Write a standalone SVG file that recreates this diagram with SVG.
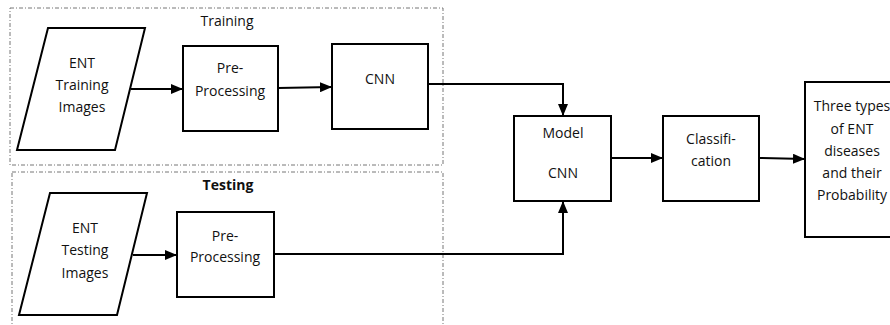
<svg xmlns="http://www.w3.org/2000/svg" width="890" height="325" viewBox="0 0 890 325">
<style>
.box{fill:#fff;stroke:#000;stroke-width:2}
.grp{fill:none;stroke:#777;stroke-width:1;stroke-dasharray:4 2 1 2}
.t{font-family:"Open Sans","Liberation Sans",sans-serif;font-size:14px;fill:#111;text-anchor:middle}
.b{font-weight:bold}
.c{fill:none;stroke:#000;stroke-width:2}
</style>
<defs>
<marker id="ah" markerWidth="12" markerHeight="10" refX="12" refY="5" orient="auto" markerUnits="userSpaceOnUse">
<path d="M0,0 L12,5 L0,10 Z" fill="#000"/>
</marker>
</defs>
<rect width="890" height="325" fill="#fff"/>
<g id="training-group">
<rect class="grp" x="10" y="8" width="433" height="157"/>
<text class="t" x="227" y="26">Training</text>
</g>
<g id="testing-group">
<rect class="grp" x="12" y="172" width="431" height="170"/>
<text class="t b" x="228" y="190">Testing</text>
</g>
<g id="ent-training">
<polygon class="box" points="48,28 145,28 115,150 17,150"/>
<text class="t" x="82" y="68">ENT</text>
<text class="t" x="82" y="90">Training</text>
<text class="t" x="82" y="112">Images</text>
</g>
<g id="pre-training">
<rect class="box" x="183" y="46" width="95" height="85"/>
<text class="t" x="230" y="73">Pre-</text>
<text class="t" x="230" y="96">Processing</text>
</g>
<g id="cnn">
<rect class="box" x="332" y="44" width="96" height="85"/>
<text class="t" x="380" y="84">CNN</text>
</g>
<g id="ent-testing">
<polygon class="box" points="50,193 147,193 117,315 19,315"/>
<text class="t" x="85" y="233">ENT</text>
<text class="t" x="85" y="255">Testing</text>
<text class="t" x="85" y="278">Images</text>
</g>
<g id="pre-testing">
<rect class="box" x="177" y="212" width="97" height="85"/>
<text class="t" x="225" y="241">Pre-</text>
<text class="t" x="225" y="262">Processing</text>
</g>
<g id="model-cnn">
<rect class="box" x="514" y="116" width="97" height="85"/>
<text class="t" x="563" y="138">Model</text>
<text class="t" x="563" y="178">CNN</text>
</g>
<g id="classification">
<rect class="box" x="663" y="116" width="96" height="85"/>
<text class="t" x="711" y="144">Classifi-</text>
<text class="t" x="711" y="166">cation</text>
</g>
<g id="output">
<rect class="box" x="805" y="82" width="100" height="155"/>
<text class="t" x="852" y="111">Three types</text>
<text class="t" x="852" y="134">of ENT</text>
<text class="t" x="852" y="156">diseases</text>
<text class="t" x="852" y="178">and their</text>
<text class="t" x="852" y="200">Probability</text>
</g>
<g id="connectors">
<line class="c" x1="131" y1="89" x2="183" y2="89" marker-end="url(#ah)"/>
<line class="c" x1="278" y1="88" x2="332" y2="87" marker-end="url(#ah)"/>
<polyline class="c" points="428,84 563,84 563,116" marker-end="url(#ah)"/>
<line class="c" x1="133" y1="255" x2="177" y2="255" marker-end="url(#ah)"/>
<polyline class="c" points="274,254 563,254 563,201" marker-end="url(#ah)"/>
<line class="c" x1="611" y1="158" x2="663" y2="158" marker-end="url(#ah)"/>
<line class="c" x1="759" y1="158" x2="805" y2="159" marker-end="url(#ah)"/>
</g>
</svg>
